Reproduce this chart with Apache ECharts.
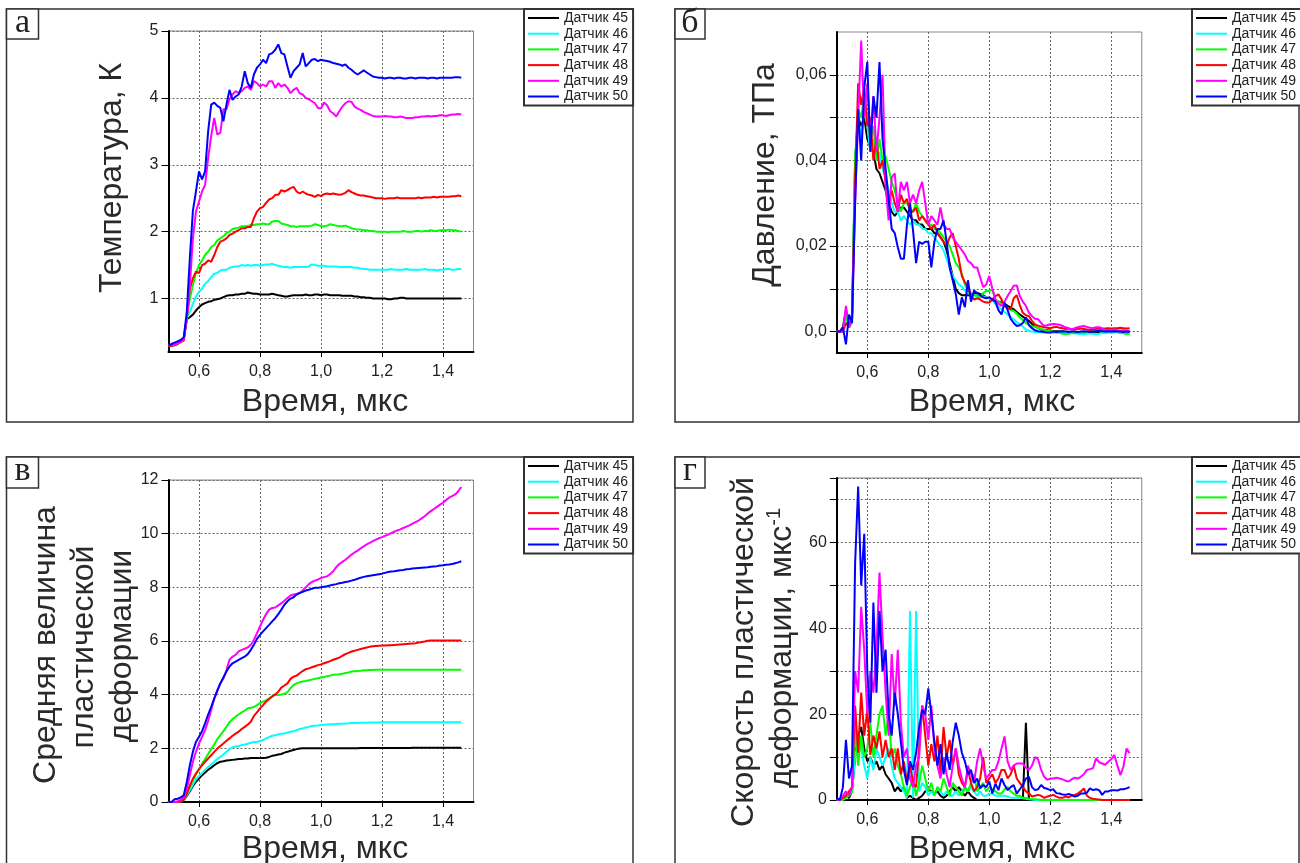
<!DOCTYPE html>
<html><head><meta charset="utf-8">
<script src="https://cdn.jsdelivr.net/npm/echarts@6/dist/echarts.min.js"></script>
<style>html,body{margin:0;padding:0;background:#fff}#c{width:1300px;height:863px}</style>
</head><body><div id="c"></div>
<script>
// ---------- DATA ----------
const time = [0.50,0.51,0.52,0.53,0.54,0.55,0.56,0.57,0.58,0.59,
0.60,0.61,0.62,0.63,0.64,0.65,0.66,0.67,0.68,0.69,
0.70,0.71,0.72,0.73,0.74,0.75,0.76,0.77,0.78,0.79,
0.80,0.81,0.82,0.83,0.84,0.85,0.86,0.87,0.88,0.89,
0.90,0.91,0.92,0.93,0.94,0.95,0.96,0.97,0.98,0.99,
1.00,1.01,1.02,1.03,1.04,1.05,1.06,1.07,1.08,1.09,
1.10,1.11,1.12,1.13,1.14,1.15,1.16,1.17,1.18,1.19,
1.20,1.21,1.22,1.23,1.24,1.25,1.26,1.27,1.28,1.29,
1.30,1.31,1.32,1.33,1.34,1.35,1.36,1.37,1.38,1.39,
1.40,1.41,1.42,1.43,1.44,1.45,1.46];

const sensorNames = ['Датчик 45','Датчик 46','Датчик 47','Датчик 48','Датчик 49','Датчик 50'];
const sensorColors = ['#000000','#00ffff','#00ff00','#ff0000','#ff00ff','#0000ff'];
const panelLetters = ['а','б','в','г'];
const xTickValues = [0.6,0.8,1.0,1.2,1.4];
const tempTicks = [1,2,3,4,5];
const presTicks = [0,0.01,0.02,0.03,0.04,0.05,0.06];
const presLabels = [0,0.02,0.04,0.06];

// Panel а: temperature, K
const temp45 = [0.30,0.30,0.31,0.33,0.36,0.40,0.69,0.72,0.76,0.82,
0.87,0.91,0.93,0.95,0.96,0.98,0.99,1.00,1.02,1.04,
1.05,1.05,1.06,1.06,1.07,1.07,1.09,1.08,1.07,1.07,
1.06,1.06,1.06,1.06,1.07,1.06,1.05,1.04,1.03,1.03,
1.04,1.05,1.05,1.05,1.05,1.06,1.05,1.05,1.06,1.06,
1.05,1.06,1.06,1.05,1.05,1.05,1.05,1.04,1.04,1.04,
1.04,1.03,1.03,1.02,1.02,1.01,1.01,1.00,1.00,1.00,
1.00,1.00,0.99,0.99,1.00,1.00,1.01,1.01,1.00,1.00,
1.00,1.00,1.00,1.00,1.00,1.00,1.00,1.00,1.00,1.00,
1.00,1.00,1.00,1.00,1.00,1.00,1.00];
const temp46 = [0.30,0.30,0.31,0.33,0.36,0.40,0.70,0.80,0.92,1.03,
1.10,1.15,1.22,1.26,1.32,1.37,1.38,1.42,1.43,1.43,
1.46,1.47,1.48,1.48,1.50,1.49,1.50,1.49,1.50,1.50,
1.49,1.50,1.51,1.51,1.52,1.50,1.49,1.48,1.47,1.47,
1.46,1.47,1.47,1.47,1.47,1.47,1.48,1.51,1.50,1.49,
1.49,1.49,1.48,1.48,1.48,1.48,1.47,1.47,1.47,1.47,
1.47,1.46,1.46,1.45,1.44,1.44,1.43,1.43,1.43,1.43,
1.43,1.43,1.43,1.44,1.43,1.43,1.43,1.43,1.44,1.43,
1.43,1.43,1.43,1.43,1.44,1.43,1.43,1.43,1.42,1.43,
1.43,1.44,1.44,1.43,1.43,1.44,1.44];
const temp47 = [0.30,0.30,0.30,0.32,0.35,0.38,0.70,1.00,1.20,1.38,
1.50,1.57,1.65,1.70,1.77,1.80,1.87,1.90,1.93,1.98,
2.00,2.04,2.05,2.06,2.08,2.08,2.08,2.10,2.10,2.11,
2.11,2.12,2.11,2.11,2.15,2.16,2.16,2.12,2.11,2.10,
2.08,2.08,2.07,2.08,2.08,2.08,2.08,2.09,2.11,2.10,
2.08,2.08,2.09,2.11,2.10,2.09,2.08,2.08,2.09,2.07,
2.05,2.04,2.03,2.03,2.02,2.02,2.01,2.01,2.00,2.00,
2.00,2.00,1.99,2.00,2.00,2.00,2.00,2.01,2.00,2.00,
2.00,2.01,2.01,2.00,2.01,2.01,2.02,2.01,2.01,2.02,
2.02,2.02,2.03,2.02,2.02,2.01,2.00];
const temp48 = [0.29,0.29,0.30,0.32,0.35,0.37,0.71,1.15,1.30,1.40,
1.38,1.50,1.52,1.57,1.55,1.65,1.77,1.85,1.87,1.90,
1.95,1.97,2.00,2.02,2.05,2.05,2.07,2.07,2.20,2.30,
2.35,2.37,2.43,2.48,2.50,2.55,2.55,2.62,2.60,2.62,
2.65,2.67,2.60,2.57,2.60,2.57,2.55,2.54,2.52,2.55,
2.53,2.56,2.57,2.56,2.57,2.56,2.55,2.56,2.58,2.62,
2.59,2.57,2.55,2.54,2.54,2.53,2.52,2.51,2.50,2.50,
2.50,2.49,2.50,2.50,2.50,2.51,2.50,2.50,2.50,2.50,
2.50,2.50,2.51,2.50,2.51,2.51,2.51,2.52,2.51,2.52,
2.52,2.52,2.52,2.53,2.53,2.54,2.53];
const temp49 = [0.30,0.30,0.31,0.33,0.35,0.38,0.70,1.20,1.90,2.30,
2.45,2.60,2.70,3.10,3.43,3.70,3.45,3.48,3.83,3.83,
3.98,4.05,4.10,4.07,4.10,4.15,4.17,4.12,4.25,4.22,
4.17,4.20,4.17,4.25,4.25,4.15,4.22,4.17,4.20,4.15,
4.07,4.12,4.15,4.07,4.05,4.00,3.98,3.95,3.92,3.85,
3.84,3.93,3.89,3.80,3.77,3.72,3.80,3.87,3.92,3.95,
3.94,3.87,3.84,3.82,3.79,3.77,3.75,3.73,3.72,3.72,
3.72,3.73,3.72,3.72,3.71,3.71,3.72,3.71,3.70,3.70,
3.70,3.71,3.71,3.72,3.72,3.73,3.72,3.73,3.73,3.74,
3.74,3.73,3.74,3.75,3.75,3.76,3.75];
const temp50 = [0.30,0.32,0.34,0.36,0.38,0.42,0.80,1.61,2.31,2.60,
2.90,2.78,2.90,3.50,3.90,3.93,3.88,3.85,3.65,3.90,
4.12,3.97,4.02,4.05,4.17,4.40,4.22,4.15,4.35,4.45,
4.50,4.57,4.52,4.65,4.67,4.72,4.80,4.67,4.65,4.47,
4.30,4.40,4.45,4.50,4.67,4.47,4.52,4.57,4.58,4.55,
4.57,4.56,4.55,4.54,4.52,4.51,4.50,4.48,4.50,4.45,
4.42,4.38,4.35,4.38,4.41,4.38,4.35,4.32,4.31,4.30,
4.30,4.29,4.30,4.30,4.29,4.30,4.30,4.29,4.29,4.30,
4.30,4.29,4.30,4.30,4.30,4.29,4.30,4.30,4.29,4.30,
4.30,4.30,4.30,4.30,4.31,4.31,4.30];

// Panel б: pressure, TPa
const pres45 = [0.000,0.000,0.001,0.005,0.001,0.003,0.040,0.050,0.048,0.050,
0.045,0.043,0.042,0.038,0.037,0.035,0.033,0.030,0.028,0.027,
0.028,0.029,0.029,0.028,0.027,0.026,0.026,0.025,0.025,0.024,
0.024,0.024,0.023,0.023,0.022,0.021,0.019,0.016,0.013,0.010,
0.0090,0.0085,0.0085,0.0085,0.0085,0.0090,0.0090,0.0088,0.0085,0.0080,
0.0078,0.0075,0.0072,0.0070,0.0068,0.0065,0.0060,0.0056,0.0052,0.0046,
0.0040,0.0035,0.0030,0.0025,0.0018,0.0012,0.0008,0.0005,0.0004,0.0003,
0.0002,0.0001,0.0001,0.0000,0.0000,-0.0001,0.0000,-0.0002,-0.0002,-0.0001,
-0.0002,-0.0002,-0.0003,-0.0002,-0.0002,-0.0001,-0.0001,0.0000,0.0000,0.0001,
0.0001,0.0000,0.0001,0.0000,0.0000,-0.0001,0.0000];
const pres46 = [0.000,0.000,0.000,0.003,0.001,0.002,0.040,0.050,0.045,0.052,
0.048,0.042,0.045,0.040,0.042,0.038,0.036,0.033,0.030,0.028,
0.028,0.026,0.027,0.026,0.025,0.026,0.025,0.025,0.024,0.024,
0.023,0.023,0.022,0.021,0.020,0.019,0.017,0.015,0.013,0.012,
0.0110,0.0105,0.0096,0.0090,0.0088,0.0085,0.0082,0.0080,0.0082,0.0080,
0.0078,0.0072,0.0065,0.0058,0.0052,0.0046,0.0040,0.0034,0.0029,0.0022,
0.0017,0.0012,0.0005,0.0002,0.0000,-0.0001,-0.0001,-0.0002,-0.0002,-0.0002,
-0.0002,-0.0003,-0.0002,-0.0003,-0.0004,-0.0003,-0.0004,-0.0003,-0.0004,-0.0005,
-0.0005,-0.0006,-0.0005,-0.0004,-0.0005,-0.0006,-0.0005,-0.0003,-0.0004,-0.0002,
-0.0003,-0.0002,-0.0002,-0.0004,-0.0003,-0.0004,-0.0005];
const pres47 = [0.000,0.000,0.000,0.004,0.001,0.003,0.040,0.052,0.050,0.055,
0.050,0.045,0.048,0.040,0.045,0.040,0.041,0.038,0.035,0.033,
0.030,0.028,0.030,0.030,0.029,0.028,0.030,0.028,0.027,0.026,
0.025,0.025,0.024,0.024,0.023,0.022,0.021,0.020,0.018,0.016,
0.0150,0.0135,0.0110,0.0095,0.0090,0.0085,0.0085,0.0080,0.0090,0.0095,
0.0095,0.0098,0.0075,0.0070,0.0065,0.0060,0.0055,0.0050,0.0048,0.0042,
0.0033,0.0027,0.0020,0.0016,0.0012,0.0012,0.0008,0.0006,0.0004,0.0002,
0.0001,0.0000,-0.0001,-0.0003,-0.0005,-0.0006,-0.0005,-0.0004,-0.0004,-0.0003,
-0.0003,-0.0002,-0.0001,0.0000,0.0001,0.0001,0.0002,0.0003,0.0004,0.0005,
0.0005,0.0003,0.0001,-0.0002,-0.0004,-0.0006,-0.0005];
const pres48 = [0.000,0.000,0.000,0.002,0.001,0.003,0.035,0.058,0.053,0.057,
0.048,0.050,0.040,0.045,0.038,0.040,0.035,0.030,0.033,0.030,
0.028,0.032,0.030,0.031,0.028,0.028,0.029,0.026,0.027,0.026,
0.025,0.024,0.025,0.023,0.022,0.021,0.020,0.022,0.023,0.020,
0.0170,0.0130,0.0115,0.0105,0.0085,0.0075,0.0078,0.0075,0.0070,0.0068,
0.0068,0.0075,0.0083,0.0087,0.0075,0.0060,0.0055,0.0052,0.0078,0.0085,
0.0062,0.0044,0.0038,0.0036,0.0025,0.0017,0.0014,0.0012,0.0010,0.0009,
0.0008,0.0010,0.0011,0.0009,0.0008,0.0006,0.0007,0.0005,0.0005,0.0006,
0.0007,0.0006,0.0005,0.0004,0.0005,0.0006,0.0007,0.0006,0.0007,0.0008,
0.0007,0.0008,0.0008,0.0009,0.0008,0.0007,0.0008];
const pres49 = [0.000,0.000,0.000,0.006,0.001,0.004,0.030,0.050,0.068,0.050,
0.058,0.045,0.055,0.042,0.050,0.060,0.034,0.026,0.036,0.037,
0.028,0.035,0.033,0.035,0.030,0.032,0.030,0.033,0.035,0.030,
0.025,0.027,0.026,0.025,0.029,0.025,0.024,0.024,0.022,0.021,
0.0200,0.0190,0.0180,0.0165,0.0160,0.0150,0.0150,0.0127,0.0104,0.0110,
0.0130,0.0100,0.0075,0.0065,0.0060,0.0070,0.0083,0.0095,0.0107,0.0108,
0.0083,0.0070,0.0060,0.0044,0.0036,0.0030,0.0029,0.0020,0.0013,0.0015,
0.0017,0.0018,0.0017,0.0016,0.0013,0.0010,0.0008,0.0005,0.0008,0.0010,
0.0012,0.0013,0.0011,0.0009,0.0008,0.0010,0.0010,0.0008,0.0004,0.0002,
0.0004,0.0005,0.0003,0.0002,0.0003,0.0002,0.0002];
const pres50 = [0.000,0.000,0.001,-0.003,0.004,0.002,0.030,0.052,0.040,0.057,
0.063,0.042,0.055,0.050,0.063,0.045,0.038,0.031,0.024,0.023,
0.0197,0.0170,0.0170,0.0250,0.0300,0.0236,0.0160,0.0210,0.0205,0.0210,
0.0210,0.0150,0.0210,0.0240,0.0240,0.0260,0.0210,0.0150,0.0120,0.0088,
0.0040,0.0080,0.0057,0.0120,0.0070,0.0096,0.0090,0.0085,0.0080,0.0078,
0.0080,0.0075,0.0070,0.0050,0.0040,0.0068,0.0050,0.0030,0.0020,0.0013,
0.0015,0.0020,0.0033,0.0015,0.0008,0.0003,0.0001,0.0000,-0.0001,-0.0002,
-0.0002,0.0000,-0.0001,0.0000,0.0001,0.0000,-0.0001,0.0000,0.0000,-0.0001,
0.0000,0.0001,0.0000,-0.0001,0.0000,0.0001,0.0002,0.0001,0.0000,0.0001,
0.0000,0.0001,0.0000,0.0000,-0.0001,0.0000,-0.0001];

// Panel в: mean plastic strain
const strain45 = [0,0,0,0,0.02,0.08,0.22,0.40,0.60,0.75,
0.87,1.00,1.10,1.20,1.28,1.37,1.45,1.50,1.52,1.55,
1.56,1.57,1.58,1.60,1.60,1.62,1.62,1.64,1.64,1.64,
1.64,1.64,1.65,1.68,1.72,1.74,1.77,1.79,1.84,1.87,
1.91,1.94,1.97,1.99,2.00,2.00,2.00,2.00,2.00,2.00,
2.00,2.00,2.00,2.00,2.00,2.00,2.00,2.00,2.00,2.00,
2.00,2.00,2.00,2.01,2.01,2.01,2.01,2.01,2.01,2.01,
2.01,2.01,2.01,2.01,2.01,2.01,2.01,2.01,2.01,2.01,
2.02,2.02,2.02,2.02,2.02,2.02,2.02,2.02,2.02,2.02,
2.02,2.02,2.02,2.02,2.02,2.02,2.02];
const strain46 = [0,0,0,0,0.02,0.08,0.25,0.44,0.65,0.85,
0.97,1.08,1.20,1.30,1.40,1.50,1.60,1.68,1.77,1.87,
1.97,2.04,2.07,2.09,2.12,2.14,2.17,2.21,2.24,2.24,
2.27,2.31,2.37,2.42,2.47,2.49,2.52,2.54,2.55,2.59,
2.62,2.64,2.68,2.72,2.74,2.78,2.80,2.83,2.84,2.85,
2.87,2.88,2.89,2.90,2.90,2.91,2.92,2.92,2.93,2.93,
2.94,2.94,2.94,2.95,2.95,2.95,2.96,2.96,2.96,2.96,
2.97,2.97,2.97,2.97,2.97,2.97,2.97,2.97,2.97,2.97,
2.97,2.97,2.97,2.97,2.97,2.97,2.97,2.97,2.97,2.97,
2.97,2.97,2.97,2.97,2.97,2.97,2.97];
const strain47 = [0,0,0,0,0.02,0.08,0.31,0.56,0.81,1.02,
1.22,1.42,1.60,1.79,1.97,2.14,2.34,2.49,2.64,2.80,
2.97,3.09,3.18,3.26,3.34,3.41,3.49,3.51,3.54,3.61,
3.69,3.74,3.79,3.86,3.94,3.99,3.99,4.01,4.04,4.09,
4.24,4.36,4.42,4.46,4.49,4.51,4.54,4.56,4.59,4.61,
4.64,4.66,4.69,4.71,4.74,4.75,4.76,4.78,4.81,4.83,
4.86,4.87,4.88,4.89,4.91,4.91,4.92,4.92,4.93,4.93,
4.93,4.93,4.93,4.93,4.93,4.93,4.93,4.93,4.93,4.93,
4.93,4.93,4.93,4.93,4.93,4.93,4.93,4.93,4.93,4.93,
4.93,4.93,4.93,4.93,4.93,4.93,4.93];
const strain48 = [0,0,0,0,0.02,0.08,0.31,0.62,0.87,1.06,
1.22,1.37,1.50,1.62,1.74,1.87,1.99,2.09,2.18,2.28,
2.37,2.47,2.55,2.62,2.72,2.80,2.89,2.99,3.21,3.34,
3.49,3.61,3.74,3.84,3.93,4.01,4.11,4.26,4.34,4.42,
4.59,4.67,4.71,4.80,4.88,4.95,4.98,5.02,5.06,5.10,
5.13,5.17,5.21,5.25,5.30,5.34,5.38,5.45,5.51,5.56,
5.61,5.64,5.67,5.70,5.73,5.76,5.79,5.80,5.81,5.82,
5.83,5.83,5.84,5.84,5.85,5.86,5.87,5.88,5.89,5.90,
5.91,5.92,5.94,5.96,5.98,6.01,6.02,6.02,6.02,6.02,
6.02,6.02,6.02,6.02,6.02,6.02,6.02];
const strain49 = [0,0,0,0.03,0.08,0.18,0.50,1.00,1.50,1.87,
2.18,2.43,2.68,3.02,3.43,3.84,4.17,4.42,4.61,4.92,
5.30,5.42,5.48,5.61,5.67,5.71,5.76,5.86,6.04,6.29,
6.54,6.79,7.00,7.17,7.23,7.25,7.33,7.41,7.50,7.60,
7.70,7.73,7.75,7.79,7.88,8.00,8.12,8.20,8.25,8.29,
8.35,8.38,8.41,8.50,8.60,8.75,8.87,8.95,9.03,9.12,
9.22,9.30,9.37,9.45,9.53,9.60,9.66,9.72,9.78,9.83,
9.87,9.92,9.97,10.02,10.07,10.12,10.16,10.21,10.26,10.31,
10.37,10.43,10.49,10.57,10.65,10.75,10.84,10.92,11.00,11.08,
11.15,11.25,11.34,11.40,11.46,11.58,11.74];
const strain50 = [0,0,0.10,0.12,0.17,0.25,0.75,1.37,1.87,2.24,
2.43,2.64,2.93,3.26,3.55,3.86,4.14,4.42,4.64,4.86,
5.05,5.17,5.23,5.30,5.36,5.42,5.51,5.67,5.86,6.08,
6.23,6.36,6.48,6.60,6.73,6.85,7.00,7.17,7.35,7.48,
7.58,7.63,7.73,7.79,7.83,7.88,7.91,7.95,7.98,7.98,
8.00,8.02,8.04,8.07,8.10,8.12,8.15,8.17,8.20,8.22,
8.25,8.28,8.32,8.36,8.39,8.41,8.43,8.45,8.47,8.49,
8.51,8.54,8.57,8.59,8.60,8.62,8.64,8.65,8.67,8.68,
8.70,8.71,8.72,8.73,8.74,8.75,8.77,8.78,8.79,8.81,
8.82,8.84,8.85,8.87,8.90,8.93,8.97];

// Panel г: plastic strain rate, 1/us
const rate45 = [0,0,0.5,1,0.5,2,10,15,17,12,
9,10,8,9,7,8,6,5,4,2,
3,2,3,0.5,1,0.5,0,0.5,1,2,
2.5,2,1.5,2,1,0.5,1,2,3,2,
3,2,1,2,1,0.5,0,0,0,0,
0,0,0,0,0,0,0,0,0,0,
0,0,18,0,0,0,0,0,0,0,
0,0,0,0,0,0,0,0,0,0,
0,0,0,0,0,0,0,0,0,0,
0,0,0,0,0,0,0];
const rate46 = [0,0,0.5,1,1,2,10,14,12,8,
5,10,7,12,10,8,10,12,8,5,
4,3,2,0.5,44,0.5,44,2,4,3,
1,2,1,3,2,1,2,1,1,2,
1,2,3,2,3,2,1,2,1,1,
1.5,1.5,1,1,1,1,0.8,0.6,0.5,0.5,
0.5,0.4,0.3,0.2,0.1,0,0,0,0,0,
0,0,0,0,0,0,0,0,0,0,
0,0,0,0,0,0,0,0,0,0,
0,0,0,0,0,0,0];
const rate47 = [0,0,0,0.5,1,2,17,8,15,10,
12,18,10,15,20,22,15,20,10,12,
8,6,3,1,3,5,1,4,8,5,
2,4,1,3,2,5,3,1,4,3,
2,1,3,2,4,6,2,3,4,2,
3,2.5,2,1.5,1.5,2.5,3,2,1.5,1,
1,0.5,0.5,0.3,0.2,0.2,0.1,0,0,0,
0,0,0,0,0,0,0,0,0,0,
0,0,0,0,0,0,0,0,0,0,
0,0,0,0,0,0,0];
const rate48 = [0,0,0.5,1,2,3,22,11,25,15,
21,10.5,15,12,16,10,14,10,12,7,
12,6,9,4,8,4,3,12,22,15,
8,13,9,15,6,17,10,14,8,12,
6,4,3,7,4,2,3,5,10,4,
5,6,4,5,7,7,5,6,8,5,
4,3,2,1.5,0.8,1,1.2,1,0.5,0.8,
1,1.2,0.8,0.5,0.5,0.8,0.6,1,1.2,1.5,
2,2.7,1,0.5,0.3,0.2,0.1,0,0,0,
0,0,0,0,0,0,0];
const rate49 = [0,0,1,2,1,3,30,25,45,35,
20,30,25,35,53,38,25,15,34,22,
35,18,10,12,5,3,8,10,22,20,
14,22,12,8,5,10,6,3,8,12,
8,5,3,8,6,4,9,12,8,5,
6,7,7,9,12,14.8,9,7,8,8.5,
8.5,8.5,7.5,7,8,10,9.5,7,5.4,4.7,
5,5,5.2,5,4.8,4.5,4.3,4.8,5.2,5,
5.4,6,7,7.2,7.4,9.7,8.8,8.5,8.2,8.9,
9.5,10.5,8,5.8,7.8,12,10.9];
const rate50 = [0.5,0,3,14,5,8,55,73,50,62,
30,18,46,25,44,30,35,20,15,25,
20,13.6,7,3.5,9,7,11,17,21,20,
26,20,13.6,8,13,6,11,7,13.6,18,
15,11,9,6,7,4,5,2.7,3.5,3,
4.3,1.5,3.8,2.3,5,3.5,2.3,3,3.5,1.5,
2.5,3.5,5,5.4,3,2.3,2.5,3.5,2.8,2.6,
2.3,2.5,1.6,1.5,1.3,1.2,1.4,1.2,0.8,1,
1.5,1.5,1.7,2.7,2.3,2.5,2.3,1.2,2,2,
2.3,2.3,2.2,2.5,2.5,2.7,3];

const tempSeries = [temp45,temp46,temp47,temp48,temp49,temp50];
const presSeries = [pres45,pres46,pres47,pres48,pres49,pres50];
const strainSeries = [strain45,strain46,strain47,strain48,strain49,strain50];
const rateSeries = [rate45,rate46,rate47,rate48,rate49,rate50];

// ---------- LAYOUT ----------
const FONT = '"Liberation Sans", Arial, sans-serif';
const grids = [
  {left:168.5, top:31, width:305, height:321},
  {left:836.8, top:32, width:305, height:321},
  {left:168.5, top:480, width:305, height:322},
  {left:836.8, top:478, width:305, height:322}
];
const frames = [[6.5,9,626.5,413],[675,9,624,413],[6.5,457,626.5,420],[675,457,624,420]];
const letterBoxes = [[6.5,9,32,30],[675,9,30,30],[6.5,457,32,31],[675,457,30,31]];
const legendPos = [[524,9],[1192,9],[524,457],[1192,457]];
const gridLineStyle = {color:'#666', type:[2,2], width:1};

const chart = echarts.init(document.getElementById('c'), null, {renderer:'canvas'});

function xAxisFor(i){
  return {
    type:'value', gridIndex:i, min:0.5, max:1.5,
    axisLine:{onZero:false, lineStyle:{color:'#000', width:2}},
    axisTick:{show:true, length:5, customValues:xTickValues, lineStyle:{color:'#000', width:1}},
    axisLabel:{customValues:xTickValues, margin:12, color:'#222', fontSize:16, fontFamily:FONT,
      formatter:v=>v.toFixed(1).replace('.',',')},
    splitLine:{show:true, lineStyle:gridLineStyle}
  };
}
function yBase(i){
  return {
    type:'value', gridIndex:i,
    axisLine:{show:true, onZero:false, lineStyle:{color:'#000', width:2}},
    axisTick:{show:true, length:7, lineStyle:{color:'#000', width:1}},
    axisLabel:{margin:10, color:'#222', fontSize:16, fontFamily:FONT},
    splitLine:{show:true, lineStyle:gridLineStyle}
  };
}
const yAxes = [yBase(0), yBase(1), yBase(2), yBase(3)];
Object.assign(yAxes[0], {min:0.2, max:5});
yAxes[0].axisTick.customValues = tempTicks;
yAxes[0].axisLabel.customValues = tempTicks;
yAxes[0].axisLabel.formatter = v => String(Math.round(v));
Object.assign(yAxes[1], {min:-0.005, max:0.07});
yAxes[1].axisTick.customValues = presTicks;
yAxes[1].axisLabel.customValues = presLabels;
yAxes[1].axisLabel.formatter = v => Math.abs(v) < 1e-9 ? '0,0' : v.toFixed(2).replace('.',',');
Object.assign(yAxes[2], {min:0, max:12, interval:2});
Object.assign(yAxes[3], {min:0, max:75, interval:10});
yAxes[3].axisLabel.formatter = v => (Math.round(v) % 20 === 0 ? String(Math.round(v)) : '');

const panelData = [tempSeries, presSeries, strainSeries, rateSeries];
const series = [];
panelData.forEach((arrs, p) => {
  arrs.forEach((vals, s) => {
    series.push({
      type:'line', name:sensorNames[s], xAxisIndex:p, yAxisIndex:p,
      data: time.map((t,k)=>[t, vals[k]]),
      showSymbol:false, symbol:'none', clip:true,
      lineStyle:{color:sensorColors[s], width:2},
      itemStyle:{color:sensorColors[s]},
      emphasis:{disabled:true}, silent:true
    });
  });
});

const legends = legendPos.map(([l,t]) => ({
  data:sensorNames, orient:'vertical', left:l, top:t, icon:'rect',
  itemWidth:31, itemHeight:2, itemGap:1.7, padding:[2,5,2,4],
  borderColor:'#333', borderWidth:2, backgroundColor:'#fff',
  selectedMode:false,
  textStyle:{fontFamily:FONT, fontSize:14, color:'#222', lineHeight:14}
}));

const graphics = [];
frames.forEach(([x,y,w,h]) => graphics.push({type:'rect', z:-10, silent:true,
  shape:{x,y,width:w,height:h}, style:{fill:'none', stroke:'#333', lineWidth:1.5}}));
letterBoxes.forEach(([x,y,w,h],i) => {
  graphics.push({type:'rect', silent:true, shape:{x,y,width:w,height:h}, style:{fill:'#fff', stroke:'#333', lineWidth:1.5}});
  graphics.push({type:'text', silent:true, x:x+w/2, y:y+h/2-1, style:{text:panelLetters[i], fill:'#222',
    font:'34px "Liberation Serif", "Times New Roman", serif', textAlign:'center', textVerticalAlign:'middle'}});
});
const titleFont = '32px ' + FONT;
function hText(x,y,text){ graphics.push({type:'text', silent:true, x, y, style:{text, fill:'#2a2a2a', font:titleFont, textAlign:'center', textVerticalAlign:'middle'}}); }
function vText(x,y,text,rich){ graphics.push({type:'text', silent:true, x, y, rotation:Math.PI/2,
  style:Object.assign({text, fill:'#2a2a2a', font:titleFont, textAlign:'center', textVerticalAlign:'middle'}, rich?{rich}:{})}); }
hText(325, 402, 'Время, мкс');
hText(992, 402, 'Время, мкс');
hText(325, 849, 'Время, мкс');
hText(992, 849, 'Время, мкс');
vText(112, 178, 'Температура, К');
vText(765, 175, 'Давление, ТПа');
vText(46, 645, 'Средняя величина');
vText(84, 647, 'пластической');
vText(122, 646, 'деформации');
vText(744, 652, 'Скорость пластической');
vText(781, 648, '{a|деформации, мкс}{b|-1}', {
  a:{font:titleFont, fill:'#2a2a2a', lineHeight:34, verticalAlign:'bottom'},
  b:{font:'20px ' + FONT, fill:'#2a2a2a', lineHeight:34, verticalAlign:'top'}
});

chart.setOption({
  animation:false,
  backgroundColor:'#fff',
  grid: grids.map(g => Object.assign({show:true, borderColor:'#888', borderWidth:1, backgroundColor:'transparent'}, g)),
  xAxis: [0,1,2,3].map(xAxisFor),
  yAxis: yAxes,
  legend: legends,
  series,
  graphic: graphics
});
</script></body></html>
